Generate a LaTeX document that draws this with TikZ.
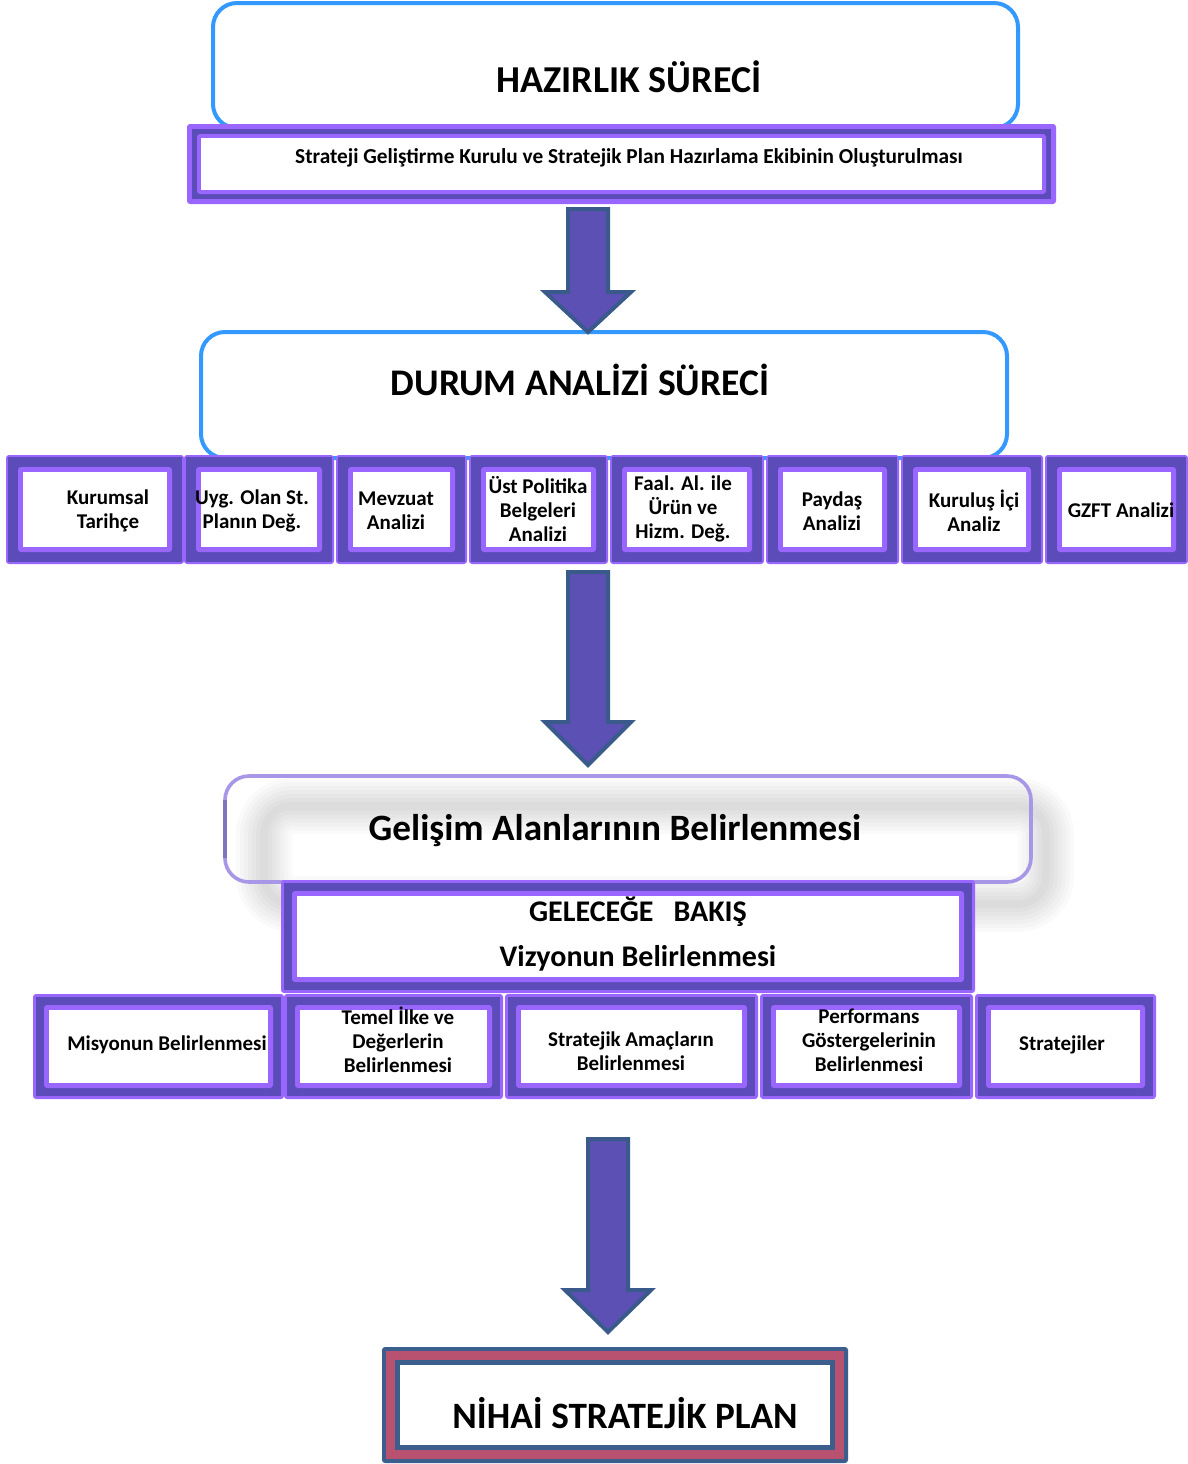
\documentclass[tikz,border=0pt]{standalone}
\usepackage{fontspec}
\setmainfont{Carlito}
\definecolor{lightp}{RGB}{153,102,255}
\definecolor{darkp}{RGB}{92,76,186}
\definecolor{bluebx}{RGB}{51,153,255}
\definecolor{arrfill}{RGB}{92,80,180}
\definecolor{arrline}{RGB}{58,90,140}
\definecolor{nihpink}{RGB}{185,82,112}
\definecolor{nihblue}{RGB}{60,94,140}
\definecolor{gelline}{RGB}{168,150,230}
\definecolor{gelleft}{RGB}{130,115,190}
\tikzset{
  lbl/.style={font=\bfseries\fontsize{10.5}{12}\selectfont, align=center, inner sep=0pt, text=black},
  biglbl/.style={font=\bfseries\fontsize{19}{22}\selectfont, align=center, inner sep=0pt, text=black},
  bluebox/.style={draw=bluebx, line width=2pt, fill=white, rounded corners=12pt},
  blockarrow/.style={fill=arrfill, draw=arrline, line width=2pt, line join=miter},
}
% frame: x1 y1 x2 y2 outer dark inner
\newcommand\pbx[7]{%
  \fill[lightp,rounded corners=1.5pt] (#1,#2) rectangle (#3,#4);
  \fill[darkp] ({#1+#5},{#2+#5}) rectangle ({#3-#5},{#4-#5});
  \fill[lightp,rounded corners=1.5pt] ({#1+#5+#6},{#2+#5+#6}) rectangle ({#3-#5-#6},{#4-#5-#6});
  \fill[white] ({#1+#5+#6+#7},{#2+#5+#6+#7}) rectangle ({#3-#5-#6-#7},{#4-#5-#6-#7});
}
\newcommand\blockarr[5]{% shaft x1 x2, y top, y head, tip y
  \draw[blockarrow] (#1,#3) -- (#2,#3) -- (#2,#4) -- ({#2+23},#4) -- ({(#1+#2)/2},#5) -- ({#1-23},#4) -- (#1,#4) -- cycle;
}
\begin{document}
\begin{tikzpicture}[x=0.5pt,y=-0.5pt]
\useasboundingbox[fill=white] (0,0) rectangle (1188,1464);

% HAZIRLIK
\draw[bluebox] (213,3) rectangle (1018,128);
\node[biglbl] (hazirlik) at (629,77) {HAZIRLIK SÜRECİ};

% Strateji box
\pbx{187}{124}{1056}{204}{5}{5}{4}
\node[lbl, font=\bfseries\fontsize{10.65}{12}\selectfont] (strateji) at (629,158) {Strateji Geliştirme Kurulu ve Stratejik Plan Hazırlama Ekibinin Oluşturulması};

% DURUM
\draw[bluebox] (201,332) rectangle (1007,458);
\node[biglbl, font=\bfseries\fontsize{18.8}{22}\selectfont] (durum) at (580,380) {DURUM ANALİZİ SÜRECİ};

% row 1
\pbx{6}{455}{184}{564}{2}{10}{5}
\pbx{184}{455}{334}{564}{2}{10}{5}
\pbx{336}{455}{467}{564}{2}{10}{5}
\pbx{469}{455}{608}{564}{2}{10}{5}
\pbx{610}{455}{764}{564}{2}{10}{5}
\pbx{766}{455}{899}{564}{2}{10}{5}
\pbx{901}{455}{1043}{564}{2}{10}{5}
\pbx{1045}{455}{1188}{564}{2}{10}{5}
\node[lbl] (kurumsal) at (108,511) {Kurumsal\\Tarihçe};
\node[lbl] (uyg) at (252,511) {Uyg. Olan St.\\Planın Değ.};
\node[lbl] (mevzuat) at (396,511) {Mevzuat\\Analizi};
\node[lbl] (ust) at (538,509) {Üst Politika\\Belgeleri\\Analizi};
\node[lbl] (faal) at (683,509) {Faal. Al. ile\\Ürün ve\\Hizm. Değ.};
\node[lbl] (paydas) at (832,511) {Paydaş\\Analizi};
\node[lbl] (kurulus) at (974,511) {Kuruluş İçi\\Analiz};
\node[lbl] (gzft) at (1121,510) {GZFT Analizi};

% Gelisim glow + box
\foreach \w in {28pt,24pt,20pt,16pt,12pt,8pt,4pt}
  \draw[black, opacity=0.018, line width=\w, rounded corners=14pt] (264,806) rectangle (1046,904);
\draw[gelline, line width=1.8pt, rounded corners=12pt] (225,776) rectangle (1031,882);
\draw[gelleft, line width=1.8pt] (225,800) -- (225,858);
\node[biglbl, font=\bfseries\fontsize{18.6}{22}\selectfont] (gelisim) at (615,831) {Gelişim Alanlarının Belirlenmesi};

% Gelecege
\pbx{281}{880}{975}{993}{3}{8}{5}
\node[lbl, font=\bfseries\fontsize{15}{18}\selectfont] (gelecege) at (638,912) {GELECEĞE\hspace{10pt}BAKIŞ};
\node[lbl, font=\bfseries\fontsize{15}{18}\selectfont] (vizyon) at (638,958) {Vizyonun Belirlenmesi};

% bottom row
\pbx{33}{994}{284}{1099}{3}{8}{5}
\pbx{284}{994}{503}{1099}{3}{8}{5}
\pbx{505}{994}{758}{1099}{3}{8}{5}
\pbx{760}{994}{973}{1099}{3}{8}{5}
\pbx{975}{994}{1156}{1099}{3}{8}{5}
\node[lbl] (misyon) at (167,1045) {Misyonun Belirlenmesi};
\node[lbl] (temel) at (398,1040) {Temel İlke ve\\Değerlerin\\Belirlenmesi};
\node[lbl] (amac) at (631,1051) {Stratejik Amaçların\\Belirlenmesi};
\node[lbl] (perf) at (869,1040) {Performans\\Göstergelerinin\\Belirlenmesi};
\node[lbl] (stratejiler) at (1062,1045) {Stratejiler};

% NIHAI
\fill[nihblue, rounded corners=1.5pt] (382,1347) rectangle (848,1463);
\fill[nihpink] (386,1351) rectangle (844,1459);
\fill[nihblue] (395,1360) rectangle (835,1450);
\fill[white] (400,1365) rectangle (830,1445);
\node[biglbl, font=\bfseries\fontsize{18.6}{22}\selectfont] (nihai) at (625,1413) {NİHAİ STRATEJİK PLAN};

% arrows
\blockarr{568}{608}{209}{292}{332}
\blockarr{568}{608}{572}{722}{765}
\blockarr{588}{628}{1139}{1290}{1332}
\end{tikzpicture}
\end{document}
